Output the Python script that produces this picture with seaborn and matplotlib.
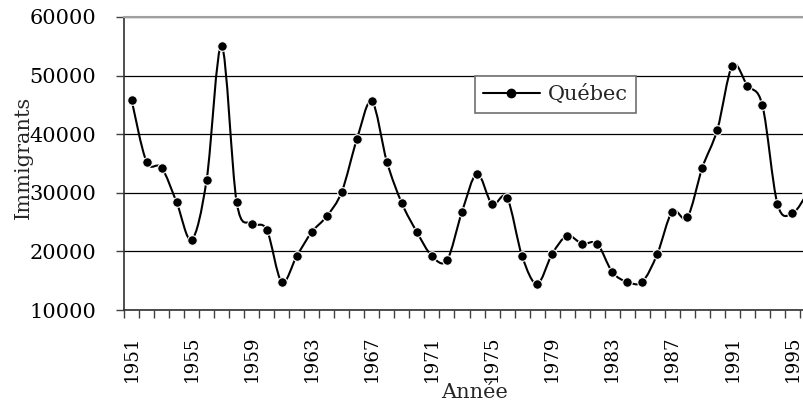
import matplotlib
matplotlib.use('Agg')
import matplotlib.pyplot as plt
from matplotlib.path import Path
from matplotlib.patches import PathPatch
from matplotlib.lines import Line2D
import seaborn as sns
import numpy as np

# data
years = list(range(1951, 1997))
immigrants = [
    45900, 35300, 34300, 28400, 22000, 32200, 55100, 28400, 24750, 23700,
    14800, 19200, 23300, 26000, 30200, 39100, 45600, 35300, 28200, 23300,
    19200, 18500, 26750, 33250, 28100, 29150, 19200, 14450, 19550, 22650,
    21300, 21300, 16500, 14800, 14800, 19550, 26800, 25800, 34300, 40800,
    51700, 48300, 44900, 28100, 26500, 29950,
]
tick_years = list(range(1951, 1997, 4))
yticks = [10000, 20000, 30000, 40000, 50000, 60000]

sns.set_style("white")
plt.rcParams['font.family'] = ['DejaVu Serif']


# smoothed line like the spreadsheet's "smoothed line" option (catmull-rom as bezier)
def smooth_path(x, y):
    pts = np.column_stack([x, y]).astype(float)
    n = len(pts)
    verts = [pts[0]]
    codes = [Path.MOVETO]
    for i in range(n - 1):
        p0 = pts[i - 1] if i > 0 else pts[i]
        p1 = pts[i]
        p2 = pts[i + 1]
        p3 = pts[i + 2] if i + 2 < n else pts[i + 1]
        verts += [p1 + (p2 - p0) / 6, p2 - (p3 - p1) / 6, p2]
        codes += [Path.CURVE4] * 3
    return Path(verts, codes)


W, H = 804, 404
fig = plt.figure(figsize=(W / 100, H / 100), dpi=100)
left, right, top, bottom = 124, 815, 17, 310
ax = fig.add_axes([left / W, 1 - bottom / H, (right - left) / W, (bottom - top) / H])

ax.add_patch(PathPatch(smooth_path(years, immigrants), facecolor='none',
                       edgecolor='black', lw=1.5, zorder=2))
sns.scatterplot(x=years, y=immigrants, ax=ax, color='black', s=48,
                edgecolor='white', linewidth=0.8, zorder=3, legend=False)

ax.set_xlim(1950.5, 1996.5)
ax.set_ylim(10000, 60000)

# gridlines
ax.set_yticks(yticks)
ax.yaxis.grid(True, color='black', lw=0.9)
ax.set_axisbelow(True)

# category axis: ticks between categories, labels every 4 years
ax.set_xticks(tick_years)
ax.set_xticklabels([str(y) for y in tick_years], rotation=90, fontsize=13.2)
ax.set_xticks(np.arange(1950.5, 1997, 1), minor=True)
ax.tick_params(axis='x', which='both', bottom=True)
ax.tick_params(axis='x', which='major', length=0, pad=18)
ax.tick_params(axis='x', which='minor', length=6, width=1, color='#404040', direction='out')
ax.tick_params(axis='y', left=True, length=6, width=1, color='#404040', direction='out',
               pad=14, labelsize=15)
ax.tick_params(labelcolor='black', which='both')

for side in ['left', 'bottom']:
    ax.spines[side].set_color('#303030')
    ax.spines[side].set_linewidth(1.2)
ax.spines['top'].set_color('#a0a0a0')
ax.spines['top'].set_linewidth(1.5)
ax.spines['right'].set_visible(False)

ax.set_ylabel('Immigrants', fontsize=15)
ax.yaxis.set_label_coords((33 - left) / (right - left), 0.52)
ax.set_xlabel('Année', fontsize=15)
ax.xaxis.set_label_coords(0.507, -(383 - bottom) / (bottom - top))

handle = Line2D([], [], color='black', lw=1.5, marker='o', markersize=6)
leg = fig.legend([handle], ['Québec'], loc='upper left',
                 bbox_to_anchor=(475 / W, 1 - 76 / H), borderaxespad=0,
                 fancybox=False, framealpha=1, edgecolor='#707070',
                 fontsize=15, handlelength=2.7, handletextpad=0.4,
                 borderpad=0.4, frameon=True)
leg.get_frame().set_linewidth(1.2)

fig.savefig('out.png', dpi=100)
